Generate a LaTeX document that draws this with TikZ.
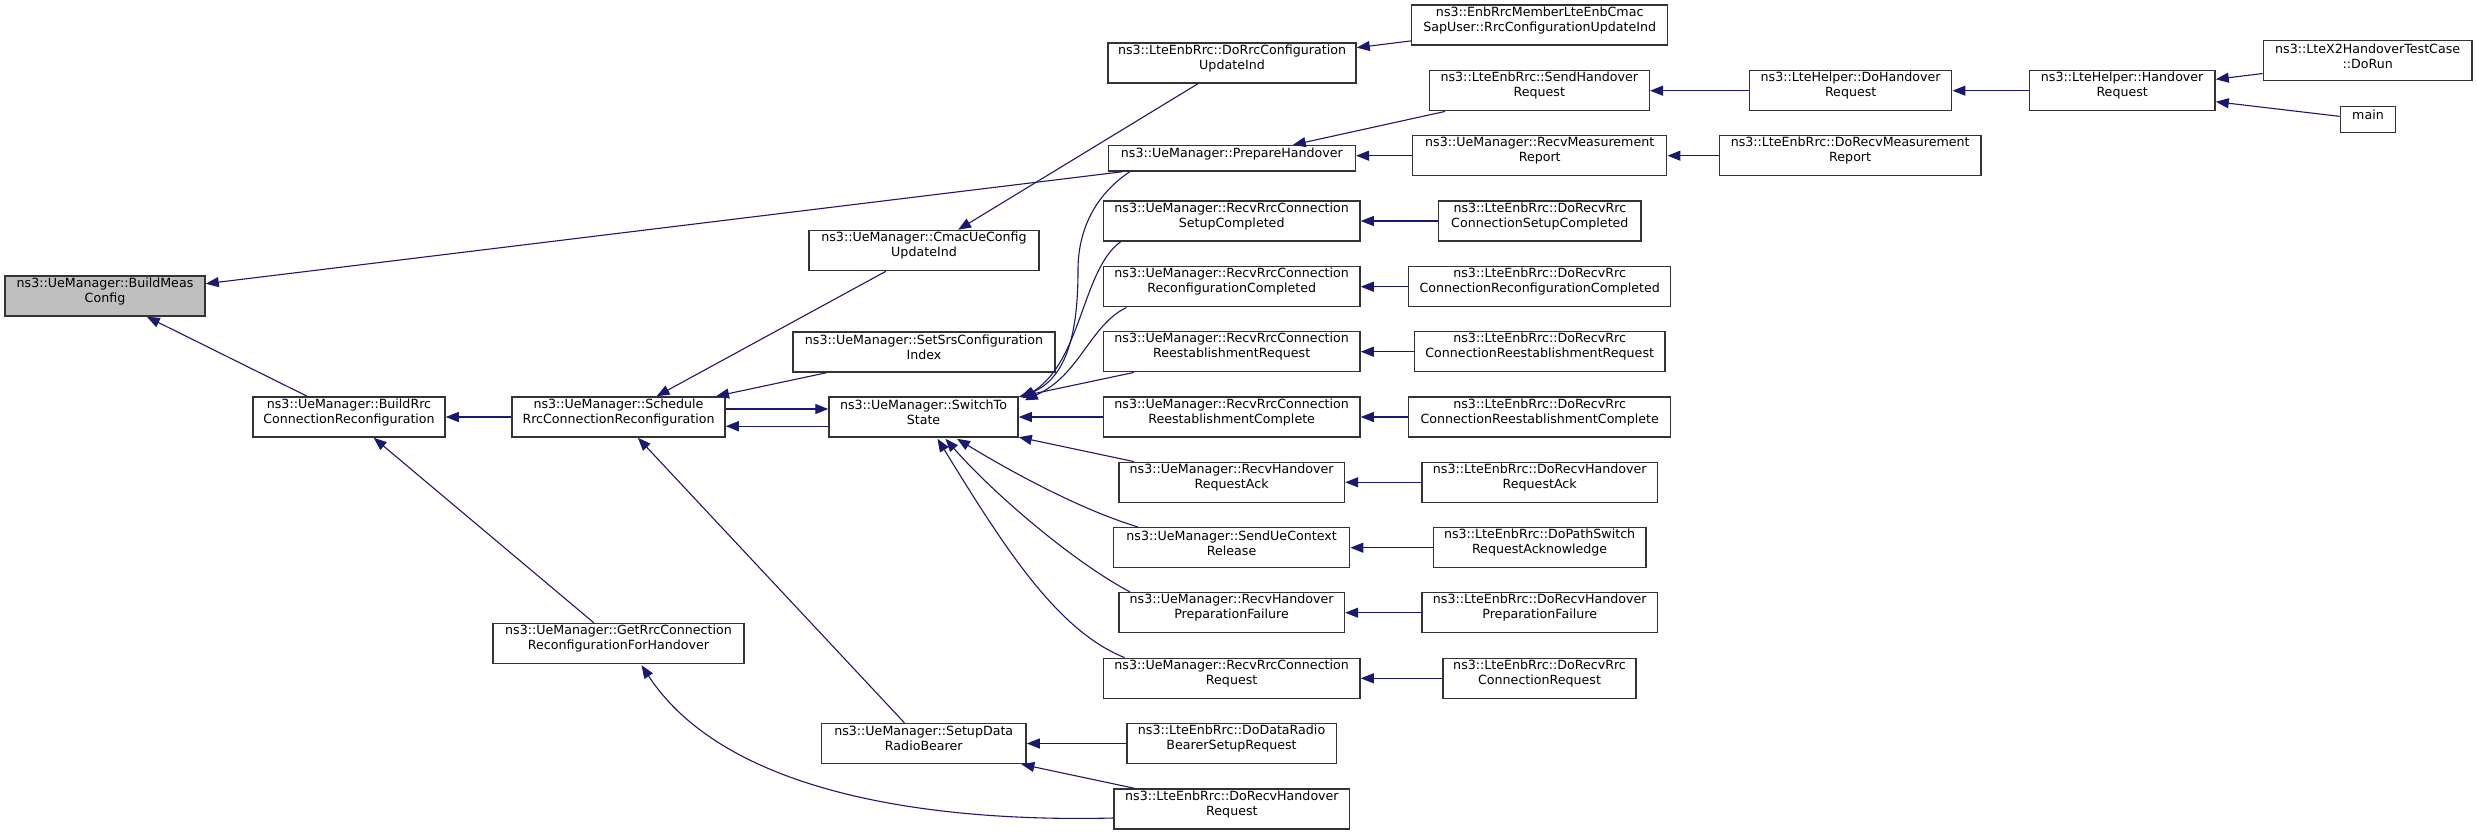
\documentclass[tikz,border=0pt]{standalone}
\usepackage{fontspec}
\setmainfont{DejaVu Sans}
\usetikzlibrary{arrows.meta,calc,fit}
\definecolor{edgeblue}{HTML}{191970}
\definecolor{hlgray}{HTML}{BFBFBF}
\begin{document}
\begin{tikzpicture}[x=0.5pt,y=-0.5pt,
  fn/.style={draw=black!80, line width=0.75pt, fill=white, inner sep=0pt, align=center,
    font=\fontsize{6.32}{7.5}\selectfont},
  fnl/.style={fn, align=left},
  edge/.style={draw=edgeblue, line width=0.55pt, -{Triangle[length=6.5pt,width=5pt]}},
]
\fill[white] (0,0) rectangle (2477,835);
\useasboundingbox (0,0) rectangle (2477,835);

% column A-D
\node[fn, fill=hlgray, fit={(5,276) (205,316)}] (bm) {ns3::UeManager::BuildMeas\\Config};
\node[fnl, fit={(253,397) (445,437)}] (brrc) {ns3::UeManager::BuildRrc\\ConnectionReconfiguration};
\node[fnl, fit={(512,397) (725,437)}] (sched) {ns3::UeManager::Schedule\\RrcConnectionReconfiguration};
\node[fn, fit={(493,623.5) (744,663.5)}] (getrrc) {ns3::UeManager::GetRrcConnection\\ReconfigurationForHandover};
\node[fn, fit={(809,230.5) (1039,270.5)}] (cmac) {ns3::UeManager::CmacUeConfig\\UpdateInd};
\node[fn, fit={(793,332) (1055,372)}] (setsrs) {ns3::UeManager::SetSrsConfiguration\\Index};
\node[fn, fit={(829,397) (1018,437)}] (sw) {ns3::UeManager::SwitchTo\\State};
\node[fn, fit={(821.5,723.5) (1026,763.5)}] (setup) {ns3::UeManager::SetupData\\RadioBearer};

% column E
\node[fn, fit={(1108,43) (1356,83)}] (dorrc) {ns3::LteEnbRrc::DoRrcConfiguration\\UpdateInd};
\node[fn, fit={(1108.5,145.7) (1355.3,171)}] (prep) {ns3::UeManager::PrepareHandover};
\node[fn, fit={(1103.3,201) (1360,241)}] (setupc) {ns3::UeManager::RecvRrcConnection\\SetupCompleted};
\node[fn, fit={(1103.3,266.7) (1360,306.7)}] (reconfc) {ns3::UeManager::RecvRrcConnection\\ReconfigurationCompleted};
\node[fn, fit={(1103.3,331.7) (1360,371.7)}] (reestreq) {ns3::UeManager::RecvRrcConnection\\ReestablishmentRequest};
\node[fn, fit={(1103.3,397) (1360,437)}] (reestc) {ns3::UeManager::RecvRrcConnection\\ReestablishmentComplete};
\node[fn, fit={(1118.8,462.3) (1344.4,502.3)}] (hoack) {ns3::UeManager::RecvHandover\\RequestAck};
\node[fn, fit={(1113.6,527.7) (1349.6,567.7)}] (sendue) {ns3::UeManager::SendUeContext\\Release};
\node[fn, fit={(1118.8,592.7) (1344.4,632.7)}] (hoprep) {ns3::UeManager::RecvHandover\\PreparationFailure};
\node[fn, fit={(1103.3,658.3) (1360,698.3)}] (rrcreq) {ns3::UeManager::RecvRrcConnection\\Request};
\node[fn, fit={(1126.8,723.5) (1336.3,763.5)}] (dodata) {ns3::LteEnbRrc::DoDataRadio\\BearerSetupRequest};
\node[fn, fit={(1114.2,789) (1349.6,829)}] (dorecvho) {ns3::LteEnbRrc::DoRecvHandover\\Request};

% column F
\node[fnl, fit={(1411.7,5) (1667.7,45)}] (enb) {ns3::EnbRrcMemberLteEnbCmac\\SapUser::RrcConfigurationUpdateInd};
\node[fn, fit={(1429.3,70.7) (1649.3,110.7)}] (sendho) {ns3::LteEnbRrc::SendHandover\\Request};
\node[fn, fit={(1412.7,135.7) (1666.7,175.7)}] (recvmeas) {ns3::UeManager::RecvMeasurement\\Report};
\node[fnl, fit={(1438.5,201) (1641.2,241)}] (dorecvsc) {ns3::LteEnbRrc::DoRecvRrc\\ConnectionSetupCompleted};
\node[fnl, fit={(1408.7,266.7) (1670.7,306.7)}] (dorecvrc) {ns3::LteEnbRrc::DoRecvRrc\\ConnectionReconfigurationCompleted};
\node[fnl, fit={(1414.4,331.7) (1665,371.7)}] (dorecvrr) {ns3::LteEnbRrc::DoRecvRrc\\ConnectionReestablishmentRequest};
\node[fnl, fit={(1408.7,397) (1670.7,437)}] (dorecvrcomp) {ns3::LteEnbRrc::DoRecvRrc\\ConnectionReestablishmentComplete};
\node[fn, fit={(1421.9,462.3) (1657.5,502.3)}] (dorecvack) {ns3::LteEnbRrc::DoRecvHandover\\RequestAck};
\node[fn, fit={(1433.4,527.7) (1645.8,567.7)}] (dopath) {ns3::LteEnbRrc::DoPathSwitch\\RequestAcknowledge};
\node[fn, fit={(1421.9,592.7) (1657.5,632.7)}] (dorecvprep) {ns3::LteEnbRrc::DoRecvHandover\\PreparationFailure};
\node[fn, fit={(1443.1,658.3) (1636,698.3)}] (dorecvreq) {ns3::LteEnbRrc::DoRecvRrc\\ConnectionRequest};

% columns G-I
\node[fn, fit={(1749.6,70.7) (1951.7,110.7)}] (dohandover) {ns3::LteHelper::DoHandover\\Request};
\node[fn, fit={(1719.3,135.7) (1981,175.7)}] (dorecvmeas) {ns3::LteEnbRrc::DoRecvMeasurement\\Report};
\node[fn, fit={(2029.3,70.7) (2215,110.7)}] (horeq) {ns3::LteHelper::Handover\\Request};
\node[fn, fit={(2263.3,40.7) (2472,80.7)}] (ltex2) {ns3::LteX2HandoverTestCase\\::DoRun};
\node[fn, fit={(2340.3,106.7) (2395.7,132.7)}] (mainf) {main};

% straight edges (caller -> callee)
\draw[edge] (prep) -- (bm);
\draw[edge] (brrc) -- (bm);
\draw[edge] (sched) -- (brrc);
\draw[edge] (getrrc) -- (brrc);
\draw[edge] (cmac) -- (sched);
\draw[edge] (setsrs) -- (sched);
\draw[edge] (setup) -- (sched);
\draw[edge] ([yshift=4pt]sched.east) -- ([yshift=4pt]sw.west);
\draw[edge] ([yshift=-4.6pt]sw.west) -- ([yshift=-4.6pt]sched.east);
\draw[edge] (dorrc) -- (cmac);
\draw[edge] (enb) -- (dorrc);
\draw[edge] (sendho) -- (prep);
\draw[edge] (recvmeas.west) -- (recvmeas.west -| prep.east);
\draw[edge] (dohandover) -- (sendho);
\draw[edge] (horeq) -- (dohandover);
\draw[edge] (ltex2) -- (horeq);
\draw[edge] (mainf) -- (horeq);
\draw[edge] (dorecvmeas) -- (recvmeas);
\draw[edge] (reestreq) -- (sw);
\draw[edge] (reestc) -- (sw);
\draw[edge] (hoack) -- (sw);
\draw[edge] (dorecvsc) -- (setupc);
\draw[edge] (dorecvrc) -- (reconfc);
\draw[edge] (dorecvrr) -- (reestreq);
\draw[edge] (dorecvrcomp) -- (reestc);
\draw[edge] (dorecvack) -- (hoack);
\draw[edge] (dopath) -- (sendue);
\draw[edge] (dorecvprep) -- (hoprep);
\draw[edge] (dorecvreq) -- (rrcreq);
\draw[edge] (dodata) -- (setup);
\draw[edge] (dorecvho) -- (setup);

% curved edges
\draw[edge] ($(prep.south west)+(22,0)$) .. controls (1095,195) and (1078,230) .. (1078,270)
  .. controls (1078,330) and (1068,378) .. ($(sw.north east)+(1,1)$);
\draw[edge] ($(setupc.south west)+(18,0)$) .. controls (1082,270) and (1082,360) .. ($(sw.north east)+(4,2)$);
\draw[edge] ($(reconfc.south west)+(24,0)$) .. controls (1090,325) and (1080,375) .. ($(sw.north east)+(6,4)$);
\draw[edge] ($(sendue.north west)+(25,0)$) .. controls (1075,508) and (1000,465) .. ($(sw.south)+(33.5,1)$);
\draw[edge] ($(hoprep.north west)+(12,0)$) .. controls (1070,560) and (990,490) .. ($(sw.south)+(22,1)$);
\draw[edge] ($(rrcreq.north west)+(22,0)$) .. controls (1055,630) and (1000,540) .. ($(sw.south)+(14,1)$);
\draw[edge] ($(dorecvho.west)+(0,9)$) .. controls (950,822) and (730,800) .. ($(getrrc.south)+(23,1)$);
\end{tikzpicture}
\end{document}
